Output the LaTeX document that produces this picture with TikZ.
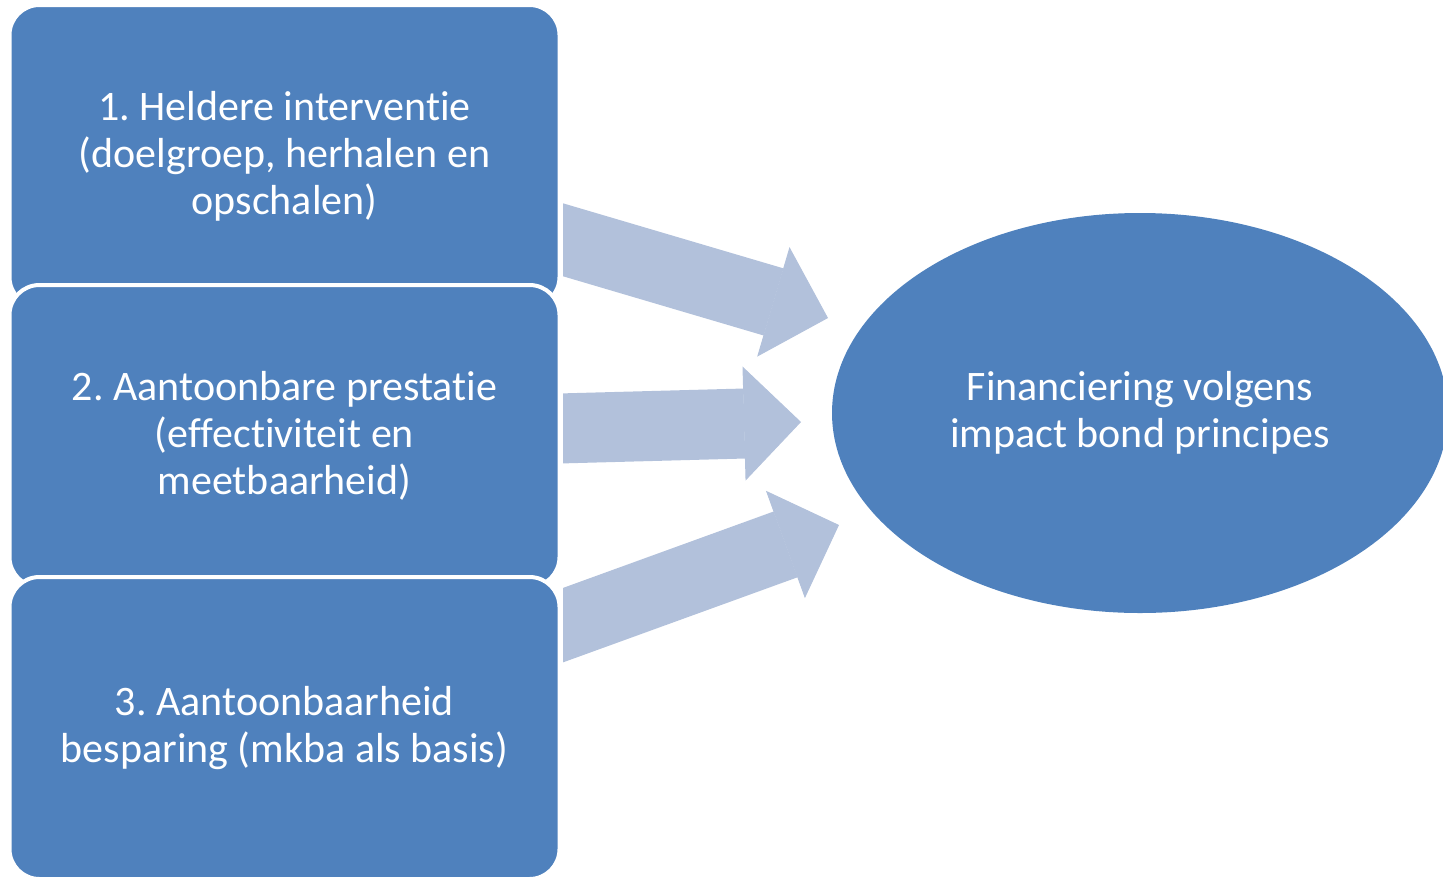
\documentclass[tikz,border=0pt]{standalone}
\usepackage{fontspec}
\setmainfont[RawFeature=-liga]{Carlito}
\usetikzlibrary{positioning, arrows.meta, shapes}
\definecolor{vakblauw}{HTML}{4F81BD}
\definecolor{pijlblauw}{HTML}{B2C1DB}
\frenchspacing
\tikzset{font=\fontsize{42}{47}\selectfont,
  blok/.style={rectangle, rounded corners=30pt, fill=vakblauw, draw=white, line width=4pt, text=white, align=center, minimum width=550pt, minimum height=302pt, inner sep=0pt},
  doel/.style={ellipse, fill=vakblauw, text=white, align=center, minimum width=616pt, minimum height=400pt, inner sep=0pt},
  pijl/.style={draw=pijlblauw, fill=pijlblauw, line width=70pt, -{Triangle[width=114pt, length=57pt, line width=1pt]}}}

\begin{document}
\begin{tikzpicture}[x=1pt, y=-1pt]
    \useasboundingbox (0,0) rectangle (1443,876);
    % pijlen eerst, de blokken liggen erover
    \coordinate (start1) at (540,233);   \coordinate (punt1) at (828,318);
    \coordinate (start2) at (540,429);   \coordinate (punt2) at (801,422);
    \coordinate (start3) at (540,633.5); \coordinate (punt3) at (839,525);
    \begin{scope}
        \clip (563,0) rectangle (1443,876);
        \draw[pijl] (start1) -- (punt1);
        \draw[pijl] (start2) -- (punt2);
        \draw[pijl] (start3) -- (punt3);
    \end{scope}
    \node[blok] (interventie) at (284.5,156) {1. Heldere interventie\\(doelgroep, herhalen en\\opschalen)};
    \node[blok] (prestatie) at (284.5,436) {2. Aantoonbare prestatie\\(effectiviteit en\\meetbaarheid)};
    \node[blok] (besparing) at (284.5,728) {3. Aantoonbaarheid\\besparing (mkba als basis)};
    \node[doel] (financiering) at (1140,413) {Financiering volgens\\impact bond principes};
\end{tikzpicture}
\end{document}
